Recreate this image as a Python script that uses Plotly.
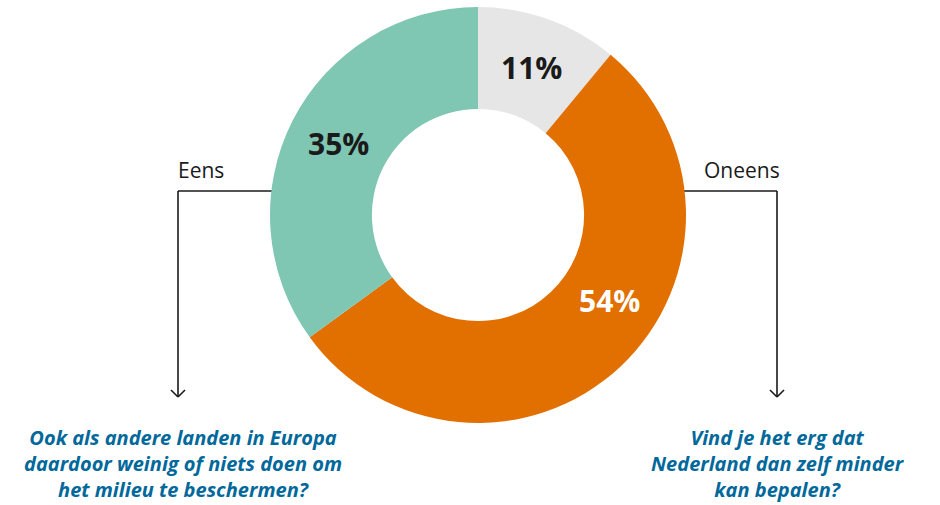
import math
import plotly.graph_objects as go

# ---- data ----
categories = ["Weet niet", "Oneens", "Eens"]
values = [11, 54, 35]
value_labels = ["11%", "54%", "35%"]
side_labels = ["Eens", "Oneens"]
question_left = "Ook als andere landen in Europa<br>daardoor weinig of niets doen om<br>het milieu te beschermen?"
question_right = "Vind je het erg dat<br>Nederland dan zelf minder<br>kan bepalen?"

# ---- style ----
W, H = 940, 505
colors = ["#E6E6E6", "#E17000", "#7FC6B3"]
label_colors = ["#1a1a1a", "#ffffff", "#1a1a1a"]
label_angle_shift = [0, -14, 0]
blue = "#01689B"
cx, cy, R = 478, 215, 208
hole = 0.51
label_r = 157

def px(x):
    return x / W

def py(y):
    return 1 - y / H

fig = go.Figure()
fig.add_trace(go.Pie(
    labels=categories, values=values, sort=False, direction="clockwise",
    rotation=0, hole=hole, textinfo="none", hoverinfo="label+percent",
    marker=dict(colors=colors, line=dict(width=0)),
    domain=dict(x=[px(cx - R), px(cx + R)], y=[py(cy + R), py(cy - R)]),
    showlegend=False,
))

def ann(x, y, text, font, align="center"):
    return dict(x=px(x), y=py(y), xref="paper", yref="paper", text=text,
                xanchor="center", yanchor="middle", showarrow=False,
                align=align, font=font)

# percentage labels at slice mid-angles
total = sum(values)
cum = 0
annotations = []
for v, lab, col, sh in zip(values, value_labels, label_colors, label_angle_shift):
    mid = (cum + v / 2) / total * 360 + sh
    cum += v
    a = math.radians(mid)
    x = cx + label_r * math.sin(a)
    y = cy - label_r * math.cos(a)
    annotations.append(ann(x, y, lab, dict(family="Open Sans", size=30, color=col, weight="bold")))

# side labels
sfont = dict(family="Open Sans", size=21, color="#1a1a1a")
annotations.append(ann(201, 170, side_labels[0], sfont))
annotations.append(ann(742, 170, side_labels[1], sfont))

# questions
qfont = dict(family="Open Sans", size=20, color=blue, weight="bold", style="italic")
annotations.append(ann(183, 463, question_left, qfont))
annotations.append(ann(778, 463, question_right, qfont))

shapes = []
line = dict(color="#1a1a1a", width=1.6)
def seg(x0, y0, x1, y1):
    shapes.append(dict(type="line", xref="paper", yref="paper", x0=px(x0), y0=py(y0),
                       x1=px(x1), y1=py(y1), line=line, layer="below"))

# left connector
seg(178, 191, 300, 191)
seg(178, 191, 178, 397)
seg(171, 390, 178, 397)
seg(185, 390, 178, 397)
# right connector
seg(660, 191, 777, 191)
seg(777, 191, 777, 397)
seg(770, 390, 777, 397)
seg(784, 390, 777, 397)

fig.update_layout(
    width=W, height=H, margin=dict(l=0, r=0, t=0, b=0),
    paper_bgcolor="white", plot_bgcolor="white",
    annotations=annotations, shapes=shapes,
)
fig.write_html("out.html", config={"displayModeBar": False},
               post_script="document.body.style.margin='0';")
